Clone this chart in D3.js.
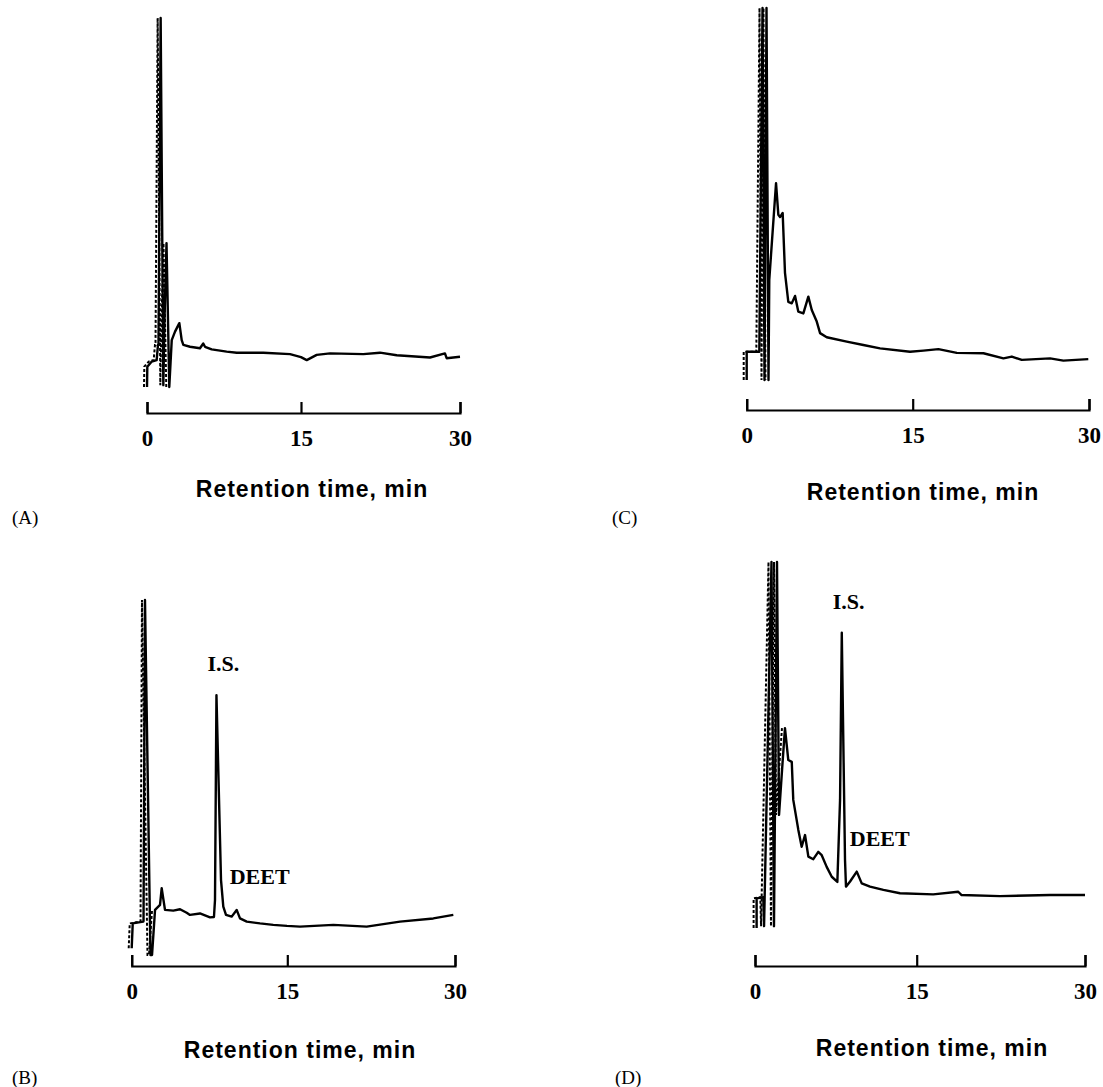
<!DOCTYPE html>
<html>
<head>
<meta charset="utf-8">
<script src="https://cdn.jsdelivr.net/npm/d3@7"></script>
<style>
body { margin: 0; background: #fff; }
</style>
</head>
<body>
<script>
// tick labels on every time axis
var xTicks = [0, 15, 30];
var axisTitle = "Retention time, min";

// chromatograms: [retention time (min), detector response (% of panel full scale)]
var traceA = [
	[0, 0], [0.03, 5.5], [0.46, 6.9], [0.94, 7.3], [1.07, 11.4], [1.12, 11.4],
	[1.33, 100], [1.59, 0.5], [1.72, 20], [1.9, 39], [2.17, 0],
	[2.41, 12.7], [2.73, 15.0], [3.15, 17.3], [3.38, 12.7], [3.54, 11.4],
	[4.19, 10.9], [5.16, 10.5], [5.48, 11.8], [5.65, 10.9], [6.3, 10.2],
	[7.76, 9.6], [8.74, 9.3], [11.33, 9.3], [13.93, 8.9], [15.0, 8.1],
	[15.54, 7.3], [16.48, 8.7], [17.74, 9.1], [20.88, 8.9], [22.45, 9.3],
	[24.03, 8.6], [27.17, 8.0], [28.58, 9.1], [28.74, 7.8], [30, 8.2]
];
var traceB = [
	[0, 1.9], [0.1, 8.9], [1.12, 9.4], [1.14, 9.6], [1.28, 100], [1.81, 0],
	[1.96, 0], [2.25, 12.7], [2.73, 14.1], [2.89, 18.8], [3.21, 12.7],
	[4.01, 12.5], [4.66, 12.9], [5.3, 11.9], [5.62, 11.3], [6.58, 11.7],
	[7.55, 10.6], [7.93, 10.7], [8.03, 15.5], [8.17, 73.2], [8.61, 21.1],
	[8.83, 13.6], [9.09, 11.3], [9.64, 10.8], [10.12, 12.7], [10.44, 10.3],
	[11.09, 9.4], [12.37, 8.9], [13.65, 8.5], [14.97, 8.2], [16.14, 8.0],
	[19.12, 8.5], [22.1, 8.0], [25.08, 9.4], [28.06, 10.3], [29.85, 11.3]
];
var traceC = [
	[0, 0], [0, 7.6], [1.14, 7.6], [1.43, 100], [1.61, 0], [1.79, 100],
	[1.97, 0], [2.04, 26.9], [2.29, 37.6], [2.65, 52.9], [2.86, 44.4],
	[3.01, 43.8], [3.25, 44.9], [3.46, 28.8], [3.76, 21.0], [4.07, 20.6],
	[4.37, 22.6], [4.66, 18.4], [5.12, 17.9], [5.57, 22.4], [5.88, 18.8],
	[6.33, 15.7], [6.63, 12.6], [7.23, 11.5], [9.04, 10.3], [10.54, 9.4],
	[12.05, 8.5], [14.76, 7.6], [15.91, 7.9], [17.19, 8.3], [18.75, 7.3],
	[21.02, 7.2], [22.72, 5.8], [23.43, 6.3], [24.28, 5.4], [26.69, 5.8],
	[27.82, 5.2], [29.94, 5.6]
];
var traceD = [
	[0.15, 0], [0.15, 8.1], [0.77, 8.4], [0.84, 0.5], [1.53, 100], [1.76, 0.5],
	[2.04, 100], [2.23, 30.9], [2.51, 43.2], [2.78, 54.6], [3.09, 45.9],
	[3.41, 45.4], [3.55, 35.0], [4.02, 26.8], [4.33, 22.2], [4.64, 25.4],
	[4.95, 19.5], [5.41, 18.8], [5.87, 20.8], [6.19, 19.9], [6.65, 16.7],
	[7.12, 14.0], [7.64, 12.6], [7.89, 35.0], [8.05, 80.7], [8.35, 18.6],
	[8.44, 11.3], [8.82, 12.7], [9.44, 15.4], [9.9, 12.2], [10.67, 11.3],
	[11.91, 10.4], [13.45, 9.5], [16.47, 9.2], [18.7, 9.9], [19.0, 9.0],
	[22.42, 8.7], [26.88, 9.0], [30, 9.0]
];

// labelled peaks: [retention time, response at apex, name]
var peaksB = [[8.17, 73.2, "I.S."], [10.12, 12.7, "DEET"]];
var peaksD = [[8.05, 80.7, "I.S."], [9.44, 15.4, "DEET"]];

var width = 1103,
	height = 1087;

var svg = d3.select("body").append("svg")
	.attr("width", width)
	.attr("height", height);

// panel layout in page pixels
var panels = [
	{ name: "(A)", data: traceA, peaks: [], xr: [147, 301, 460], yr: [387, 18], axisY: 413,
	  titleX: 312, titleY: 497, tagX: 12, tagY: 524, dashEnd: 2.2 },
	{ name: "(B)", data: traceB, peaks: peaksB, xr: [131.7, 287.3, 455], yr: [955, 600], axisY: 966,
	  titleX: 300, titleY: 1058, tagX: 12, tagY: 1084, dashEnd: 2.3 },
	{ name: "(C)", data: traceC, peaks: [], xr: [746.7, 912.7, 1089], yr: [380, 8], axisY: 410,
	  titleX: 923, titleY: 500, tagX: 612, tagY: 524, dashEnd: 2.0 },
	{ name: "(D)", data: traceD, peaks: peaksD, xr: [755, 916.7, 1085], yr: [928, 562], axisY: 966,
	  titleX: 932, titleY: 1056, tagX: 615, tagY: 1084, dashEnd: 2.8 }
];

panels.forEach(function(p) {
	var x = d3.scaleLinear().domain(xTicks).range(p.xr);
	var y = d3.scaleLinear().domain([0, 100]).range(p.yr);

	var g = svg.append("g");

	var line = d3.line()
		.x(function(d) { return x(d[0]); })
		.y(function(d) { return y(d[1]); });

	// dotted pen trace beside the solvent front spikes
	var early = p.data.filter(function(d) { return d[0] <= p.dashEnd; });
	g.append("path")
		.datum(early)
		.attr("d", line)
		.attr("transform", "translate(-3,0)")
		.attr("fill", "none")
		.attr("stroke", "#000")
		.attr("stroke-width", 2)
		.attr("stroke-dasharray", "3,2");

	g.append("path")
		.datum(p.data)
		.attr("d", line)
		.attr("fill", "none")
		.attr("stroke", "#000")
		.attr("stroke-width", 2.4)
		.attr("stroke-linejoin", "round");

	var axis = d3.axisBottom(x)
		.tickValues(xTicks)
		.tickSize(-11)
		.tickPadding(17)
		.tickFormat(d3.format("d"));

	var ax = g.append("g")
		.attr("transform", "translate(0," + p.axisY + ")")
		.call(axis);
	ax.select(".domain").attr("stroke-width", 2.2);
	ax.selectAll(".tick line").attr("stroke-width", 2.2);
	ax.selectAll(".tick text")
		.attr("font-family", "Liberation Serif, Times New Roman, serif")
		.attr("font-weight", "bold")
		.attr("font-size", 23)
		.attr("fill", "#000");

	g.append("text")
		.attr("x", p.titleX)
		.attr("y", p.titleY)
		.attr("text-anchor", "middle")
		.attr("font-family", "Liberation Sans, Arial, sans-serif")
		.attr("font-weight", "bold")
		.attr("font-size", 23)
		.attr("letter-spacing", 1)
		.text(axisTitle);

	g.append("text")
		.attr("x", p.tagX)
		.attr("y", p.tagY)
		.attr("font-family", "Liberation Serif, Times New Roman, serif")
		.attr("font-size", 19)
		.text(p.name);

	g.selectAll(".peak")
		.data(p.peaks)
		.enter().append("text")
		.attr("class", "peak")
		.attr("x", function(d) { return d[2] == "I.S." ? x(d[0]) - 9 : x(d[0]) - 7; })
		.attr("y", function(d) { return d[2] == "I.S." ? y(d[1]) - 24 : y(d[1]) - 26; })
		.attr("font-family", "Liberation Serif, Times New Roman, serif")
		.attr("font-weight", "bold")
		.attr("font-size", 22)
		.text(function(d) { return d[2]; });
});
</script>
</body>
</html>
